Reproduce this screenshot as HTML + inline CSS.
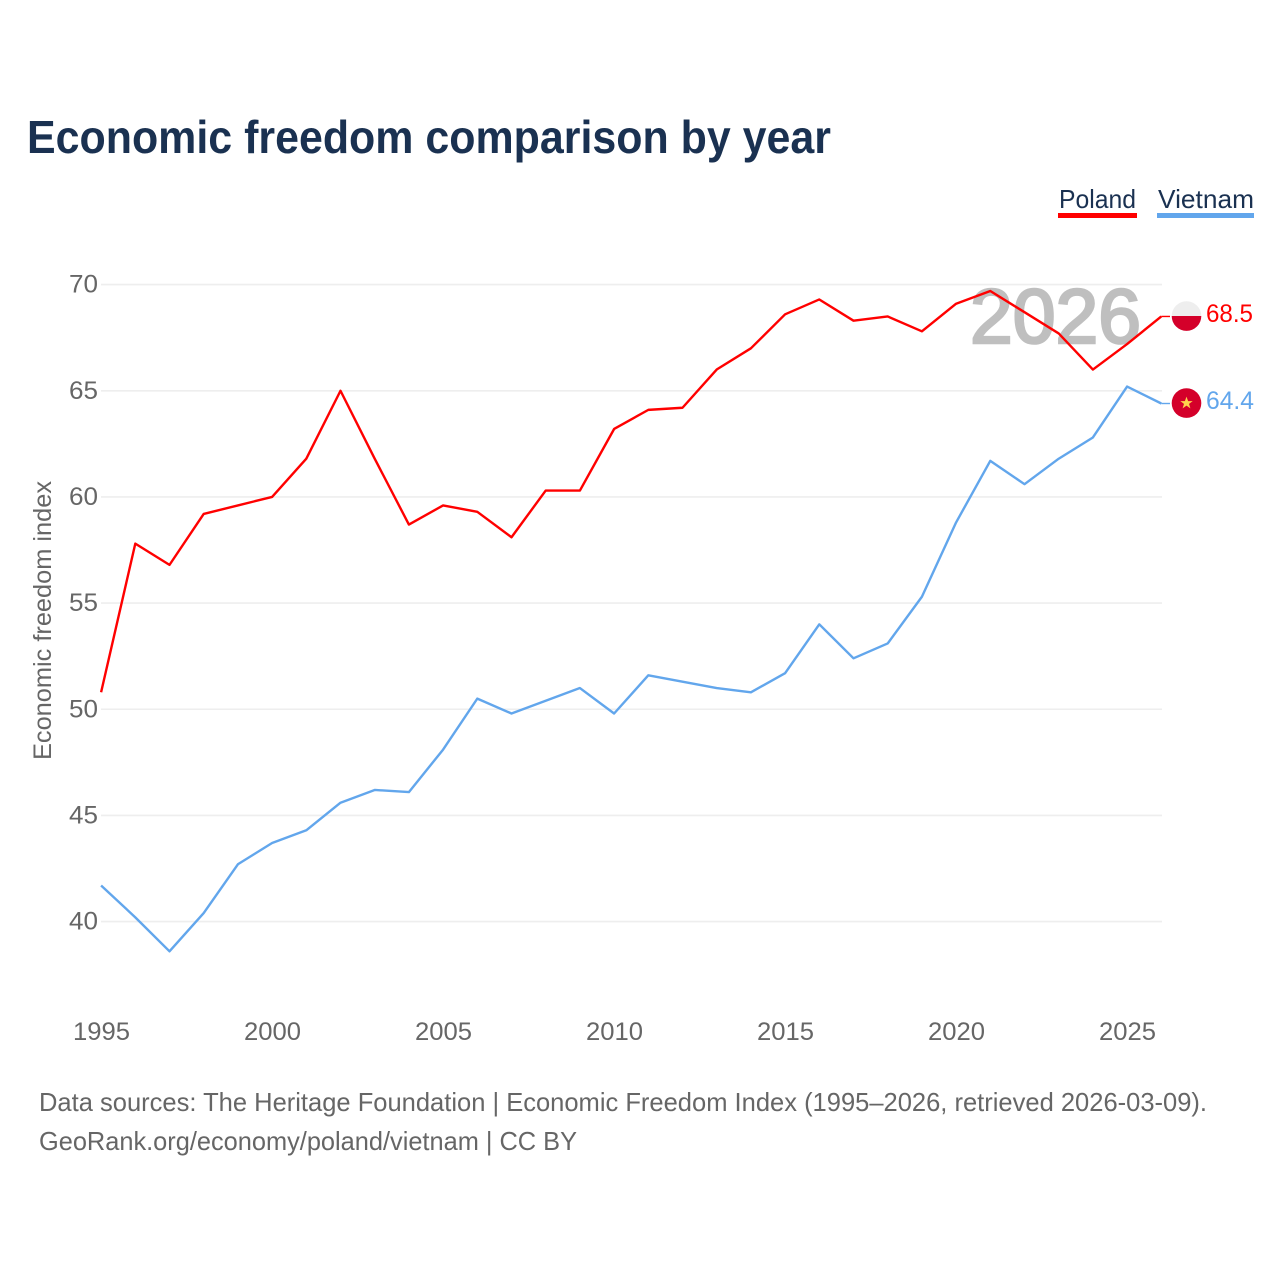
<!DOCTYPE html>
<html lang="en">
<head>
<meta charset="utf-8">
<title>Economic freedom comparison by year</title>
<style>
html,body{margin:0;padding:0;background:#fff;width:1280px;height:1280px;overflow:hidden}
svg{display:block;font-family:"Liberation Sans",sans-serif}
</style>
</head>
<body>
<svg id="chart" width="1280" height="1280" viewBox="0 0 1280 1280" xmlns="http://www.w3.org/2000/svg">
  <rect x="0" y="0" width="1280" height="1280" fill="#ffffff"/>
  <text x="27" y="153" font-size="46" font-weight="700" fill="#1a3151" textLength="804" lengthAdjust="spacingAndGlyphs">Economic freedom comparison by year</text>
  <g>
    <text x="1059" y="208" font-size="26" fill="#1a3151" textLength="77" lengthAdjust="spacingAndGlyphs">Poland</text>
    <rect x="1058" y="213" width="79" height="5" fill="#ff0000"/>
  </g>
  <g>
    <text x="1158" y="208" font-size="26" fill="#1a3151" textLength="96" lengthAdjust="spacingAndGlyphs">Vietnam</text>
    <rect x="1157" y="213" width="97" height="5" fill="#62a6ec"/>
  </g>
  <text transform="translate(51,620.5) rotate(-90)" text-anchor="middle" font-size="25" fill="#666666" textLength="279" lengthAdjust="spacingAndGlyphs">Economic freedom index</text>
  <g id="grid"></g>
  <g id="y-ticks"></g>
  <g id="x-ticks"></g>
  <text id="year-mark" x="970" y="343" font-size="77" font-weight="400" fill="#bfbfbf" stroke="#bfbfbf" stroke-width="2.6" textLength="171" lengthAdjust="spacingAndGlyphs"></text>
  <g id="series"></g>
  <g id="end-markers"></g>
  <text x="39" y="1111" font-size="26" fill="#666666" textLength="1168" lengthAdjust="spacingAndGlyphs">Data sources: The Heritage Foundation | Economic Freedom Index (1995–2026, retrieved 2026-03-09).</text>
  <text x="39" y="1150" font-size="26" fill="#666666" textLength="538" lengthAdjust="spacingAndGlyphs">GeoRank.org/economy/poland/vietnam | CC BY</text>
</svg>
<script>
var years = [1995,1996,1997,1998,1999,2000,2001,2002,2003,2004,2005,2006,2007,2008,2009,2010,2011,2012,2013,2014,2015,2016,2017,2018,2019,2020,2021,2022,2023,2024,2025,2026];
var polandValues = [50.8,57.8,56.8,59.2,59.6,60.0,61.8,65.0,61.8,58.7,59.6,59.3,58.1,60.3,60.3,63.2,64.1,64.2,66.0,67.0,68.6,69.3,68.3,68.5,67.8,69.1,69.7,68.7,67.7,66.0,67.2,68.5];
var vietnamValues = [41.7,40.2,38.6,40.4,42.7,43.7,44.3,45.6,46.2,46.1,48.1,50.5,49.8,50.4,51.0,49.8,51.6,51.3,51.0,50.8,51.7,54.0,52.4,53.1,55.3,58.8,61.7,60.6,61.8,62.8,65.2,64.4];
var yTickValues = [40,45,50,55,60,65,70];
var xTickValues = [1995,2000,2005,2010,2015,2020,2025];

var NS = 'http://www.w3.org/2000/svg';
function xScale(year){ return 101.1 + (year - 1995) * 34.2; }
function yScale(value){ return 284.6 + (70 - value) * 21.233; }
function make(tag, parent, attrs, text){
  var el = document.createElementNS(NS, tag);
  for (var k in attrs) el.setAttribute(k, attrs[k]);
  if (text !== undefined) el.textContent = text;
  parent.appendChild(el);
  return el;
}
var grid = document.getElementById('grid');
var yTicks = document.getElementById('y-ticks');
var xTicks = document.getElementById('x-ticks');
var seriesGroup = document.getElementById('series');
var markers = document.getElementById('end-markers');

yTickValues.forEach(function(v){
  var line = make('line', grid, {x1:101, x2:1162, y1:yScale(v), y2:yScale(v), stroke:'#eeeeee', 'stroke-width':1.6});
  
  
  var label = make('text', yTicks, {x:69, y:yScale(v)+8, 'font-size':25, fill:'#666666', textLength:29, lengthAdjust:'spacingAndGlyphs'}, String(v));
  
  
});

xTickValues.forEach(function(yr){
  var label = make('text', xTicks, {x:xScale(yr)-28.1, y:1040, 'font-size':25, fill:'#666666', textLength:57, lengthAdjust:'spacingAndGlyphs'}, String(yr));
  
  
});

document.getElementById('year-mark').textContent = String(years[years.length-1]);

function drawLine(values, color, name){
  var pts = values.map(function(v,i){ return xScale(years[i]).toFixed(2) + ',' + yScale(v).toFixed(2); }).join(' ');
  var line = make('polyline', seriesGroup, {points:pts, fill:'none', stroke:color, 'stroke-width':2.4, 'stroke-linejoin':'round'});
  
  
}
drawLine(polandValues, '#ff0000', 'line-poland');
drawLine(vietnamValues, '#62a6ec', 'line-vietnam');

var lastX = xScale(years[years.length-1]);
var polandLast = polandValues[polandValues.length-1];
var vietnamLast = vietnamValues[vietnamValues.length-1];
var py = yScale(polandLast);
var vy = yScale(vietnamLast);

var pLeader = make('line', markers, {x1:lastX, x2:1170, y1:py, y2:py, stroke:'#ff0000', 'stroke-width':1.4});


var vLeader = make('line', markers, {x1:lastX, x2:1170, y1:vy, y2:vy, stroke:'#62a6ec', 'stroke-width':1.4});



var pFlag = make('g', markers, {transform:'translate(1186.5,'+(py-0.4)+')'});


make('path', pFlag, {d:'M-14.8 0A14.8 14.8 0 0 1 14.8 0Z', fill:'#eeeeee'});
make('path', pFlag, {d:'M-14.8 0A14.8 14.8 0 0 0 14.8 0Z', fill:'#d4002a'});

var vFlag = make('g', markers, {transform:'translate(1186.5,'+(vy-0.4)+')'});


make('circle', vFlag, {cx:0, cy:0, r:14.8, fill:'#d4002a'});
make('polygon', vFlag, {points:'0,-6.5 1.6,-2 6.2,-2 2.5,0.8 3.9,5.3 0,2.5 -3.9,5.3 -2.5,0.8 -6.2,-2 -1.6,-2', fill:'#ffd34d'});

var pLabel = make('text', markers, {x:1206, y:py+5.6, 'font-size':25, fill:'#ff0000', textLength:47, lengthAdjust:'spacingAndGlyphs'}, polandLast.toFixed(1));


var vLabel = make('text', markers, {x:1206, y:vy+5.6, 'font-size':25, fill:'#62a6ec', textLength:48, lengthAdjust:'spacingAndGlyphs'}, vietnamLast.toFixed(1));


</script>
</body>
</html>
